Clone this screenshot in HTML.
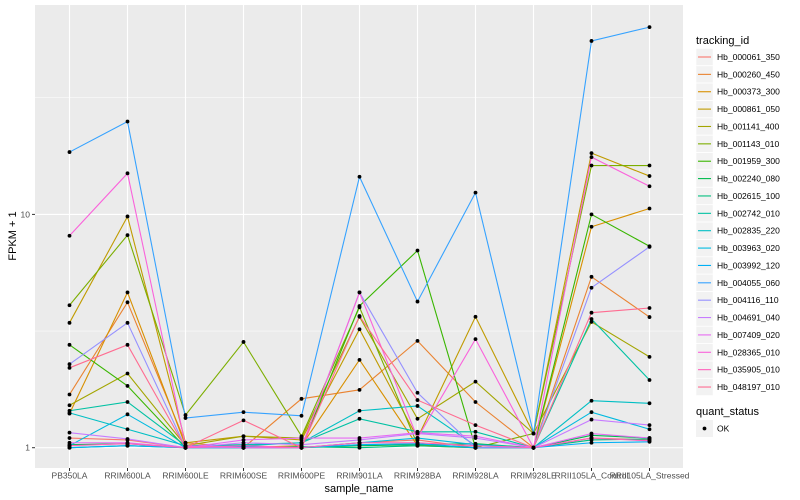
<!DOCTYPE html>
<html><head><meta charset="utf-8"><style>
body{margin:0;background:#fff;}
svg{display:block;font-family:"Liberation Sans",sans-serif;}
</style></head><body>
<svg id="chart" width="800" height="500" xmlns="http://www.w3.org/2000/svg"></svg>
<script>
const categories=["PB350LA","RRIM600LA","RRIM600LE","RRIM600SE","RRIM600PE","RRIM901LA","RRIM928BA","RRIM928LA","RRIM928LE","RRII105LA_Control","RRII105LA_Stressed"];
const seriesNames=["Hb_000061_350","Hb_000260_450","Hb_000373_300","Hb_000861_050","Hb_001141_400","Hb_001143_010","Hb_001959_300","Hb_002240_080","Hb_002615_100","Hb_002742_010","Hb_002835_220","Hb_003963_020","Hb_003992_120","Hb_004055_060","Hb_004116_110","Hb_004691_040","Hb_007409_020","Hb_028365_010","Hb_035905_010","Hb_048197_010"];
const seriesColors=["#F8766D","#EA8331","#D89000","#C09B00","#A3A500","#7CAE00","#39B600","#00BB4E","#00BF7D","#00C1A3","#00BFC4","#00BAE0","#00B0F6","#35A2FF","#9590FF","#C77CFF","#E76BF3","#FA62DB","#FF62BC","#FF6C91"];
const s00=[1.1,1.08,1,1,1,1.05,1.08,1,1,1.1,1.08];
const s01=[1.69,4.2,1.05,1,1.62,1.77,2.87,1.57,1,5.4,3.63];
const s02=[1.4,4.63,1.02,1,1.02,2.38,1.02,1,1,8.85,10.6];
const s03=[3.43,9.8,1.05,1.12,1.08,3.22,1.1,3.64,1.15,18.3,14.6];
const s04=[1.52,2.08,1.02,1.12,1.1,3.64,1.33,1.92,1.15,3.46,2.45];
const s05=[4.08,8.15,1.38,2.84,1.12,4.0,1.03,1,1.15,16.2,16.2];
const s06=[2.76,1.84,1,1,1,4.05,7.0,1,1,10,7.3];
const s07=[1.03,1.04,1,1,1,1.02,1.03,1.04,1,1.13,1.1];
const s08=[1,1.02,1,1,1.01,1,1.02,1,1,1.08,1.09];
const s09=[1.44,1.57,1.02,1.03,1.05,1.33,1.17,1.17,1,3.56,1.95];
const s10=[1.41,1.2,1.02,1.02,1.05,1.44,1.51,1.02,1,1.59,1.55];
const s11=[1.02,1.39,1,1.01,1,1.05,1.1,1.03,1,1.42,1.2];
const s12=[1,1.02,1,1,1,1.03,1.04,1,1,1.05,1.06];
const s13=[18.5,25,1.34,1.42,1.37,14.5,4.23,12.4,1.15,55.4,63.5];
const s14=[2.28,3.43,1,1,1,4.63,1.72,1,1,4.85,7.26];
const s15=[1.16,1.09,1,1.05,1.03,1.08,1.15,1.1,1,1.32,1.25];
const s16=[1.05,1.05,1,1.08,1.1,1.1,1.16,1.12,1,1.15,1.1];
const s17=[8.1,15,1.02,1,1,4.63,1.1,2.92,1,17.6,13.2];
const s18=[1.02,1.04,1,1.02,1,1.05,1.05,1.02,1,1.1,1.07];
const s19=[2.2,2.76,1,1.31,1,3.67,1.6,1.25,1,3.79,3.97];
const seriesValues=[s00,s01,s02,s03,s04,s05,s06,s07,s08,s09,s10,s11,s12,s13,s14,s15,s16,s17,s18,s19];
const yTickValues=[1,10];
const yTickLabels=["1","10"];
const yMinorValues=[Math.sqrt(10),Math.sqrt(1000)];

const NS="http://www.w3.org/2000/svg";
const svg=document.getElementById("chart");
const P={l:35,r:683,t:5,b:468};
function xS(i){return 69.5+i*58;}
function yS(v){return 447.7-Math.log10(v)*233.3;}
function mk(tag,attrs,parent){const e=document.createElementNS(NS,tag);for(const k in attrs)e.setAttribute(k,attrs[k]);(parent||svg).appendChild(e);return e;}

const panel=mk("rect",{x:P.l,y:P.t,width:P.r-P.l,height:P.b-P.t,fill:"#EBEBEB"});


yMinorValues.forEach(v=>{const g=mk("line",{x1:P.l,x2:P.r,y1:yS(v),y2:yS(v),stroke:"#fff","stroke-width":0.5});

});
yTickValues.forEach((v,i)=>{const g=mk("line",{x1:P.l,x2:P.r,y1:yS(v),y2:yS(v),stroke:"#fff","stroke-width":1.1});


const tk=mk("line",{x1:P.l-3,x2:P.l,y1:yS(v),y2:yS(v),stroke:"#333","stroke-width":1});


const t=mk("text",{x:P.l-5,y:yS(v)+3,"text-anchor":"end","font-size":"8.5",fill:"#4d4d4d"});t.textContent=yTickLabels[i];

});
categories.forEach((c,i)=>{const g=mk("line",{x1:xS(i),x2:xS(i),y1:P.t,y2:P.b,stroke:"#fff","stroke-width":1.1});


const tk=mk("line",{x1:xS(i),x2:xS(i),y1:P.b,y2:P.b+3,stroke:"#333","stroke-width":1});


const t=mk("text",{x:xS(i),y:P.b+10.5,"text-anchor":"middle","font-size":"8.5",fill:"#4d4d4d"});t.textContent=c;

});

seriesValues.forEach((vals,si)=>{
  const pl=mk("polyline",{points:vals.map((v,i)=>xS(i)+","+yS(v)).join(" "),fill:"none",stroke:seriesColors[si],"stroke-width":1.1});
  
  
});
seriesValues.forEach((vals,si)=>{
  vals.forEach((v,i)=>{const c=mk("circle",{cx:xS(i),cy:yS(v),r:1.9,fill:"#000"});
  
  });
});

const yt=mk("text",{x:0,y:0,transform:"translate(16,236) rotate(-90)","text-anchor":"middle","font-size":"11",fill:"#000"});yt.textContent="FPKM + 1";


const xt=mk("text",{x:359,y:492,"text-anchor":"middle","font-size":"11",fill:"#000"});xt.textContent="sample_name";



const lt=mk("text",{x:696,y:44,"font-size":"11",fill:"#000"});lt.textContent="tracking_id";


seriesNames.forEach((n,i)=>{
  const cy=57+i*17.37;
  const g=mk("g",{});
  
  
  mk("rect",{x:696,y:cy-8.5,width:17,height:17,fill:"#F2F2F2",stroke:"#fff","stroke-width":0.5},g);
  mk("line",{x1:698,x2:711,y1:cy,y2:cy,stroke:seriesColors[i],"stroke-width":1.1},g);
  const t=mk("text",{x:717,y:cy+3,"font-size":"8.5",fill:"#000"},g);t.textContent=n;
});
const qt=mk("text",{x:696,y:415,"font-size":"11",fill:"#000"});qt.textContent="quant_status";


const qg=mk("g",{});


mk("rect",{x:696,y:420,width:17,height:17,fill:"#F2F2F2"},qg);
mk("circle",{cx:704.5,cy:428.5,r:1.9,fill:"#000"},qg);
const ok=mk("text",{x:717,y:431.5,"font-size":"8.5",fill:"#000"},qg);ok.textContent="OK";
</script>
</body></html>
